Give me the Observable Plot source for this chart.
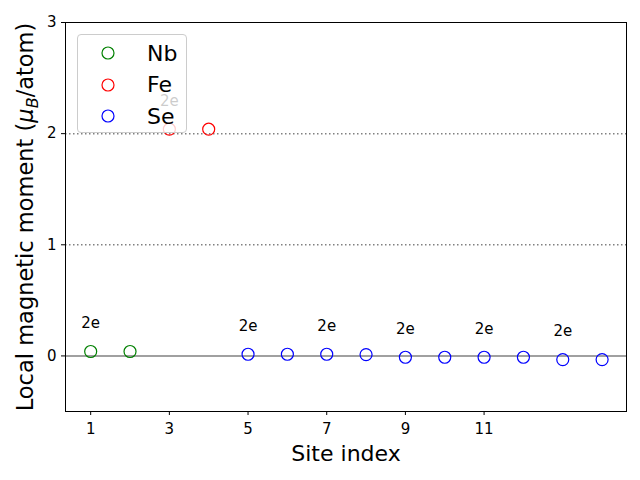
<!DOCTYPE html>
<html>
<head>
<meta charset="utf-8">
<script src="https://cdn.jsdelivr.net/npm/d3@7"></script>
<script src="https://cdn.jsdelivr.net/npm/@observablehq/plot@0.6"></script>
<style>
  html, body { margin: 0; padding: 0; background: #fff; }
  #wrap { position: relative; width: 640px; height: 480px; font-family: "DejaVu Sans", sans-serif; }
  #legend {
    position: absolute; left: 77px; top: 34px; width: 110px; height: 99px;
    background: rgba(255,255,255,0.8); border: 1px solid #cccccc; border-radius: 4px;
    box-sizing: border-box;
  }
  .li { position: absolute; left: 0; height: 30px; display: flex; align-items: center; }
  .li svg { position: absolute; left: 22px; }
  .li span { position: absolute; left: 69px; font-size: 22px; color: #000; white-space: nowrap; }
</style>
</head>
<body>
<div id="wrap"></div>
<script>
// ---- data ----
const nbSites = [1, 2];
const nbValues = [0.04, 0.04];
const feSites = [3, 4];
const feValues = [2.04, 2.04];
const seSites = [5, 6, 7, 8, 9, 10, 11, 12, 13, 14];
const seValues = [0.015, 0.015, 0.015, 0.012, -0.012, -0.012, -0.012, -0.012, -0.033, -0.033];
const labelSites = [1, 3, 5, 7, 9, 11, 13];
const labelText = "2e";
const seriesNames = ["Nb", "Fe", "Se"];
const seriesColors = ["#008000", "#ff0000", "#0000ff"];
const xTicks = [1, 3, 5, 7, 9, 11];
const yTicks = [0, 1, 2, 3];
const dottedLevels = [1, 2];
const xLabel = "Site index";

// ---- table ----
const points = [
  ...nbSites.map((s, i) => ({site: s, value: nbValues[i], el: "Nb"})),
  ...feSites.map((s, i) => ({site: s, value: feValues[i], el: "Fe"})),
  ...seSites.map((s, i) => ({site: s, value: seValues[i], el: "Se"}))
];
const labels = labelSites.map(s => points.find(p => p.site === s));

const font = "DejaVu Sans, sans-serif";
const chart = Plot.plot({
  width: 640,
  height: 480,
  marginLeft: 65,
  marginRight: 14,
  marginTop: 22,
  marginBottom: 69,
  style: {fontFamily: font, background: "white", color: "black"},
  x: {domain: [0.36, 14.62]},
  y: {domain: [-0.5, 3]},
  color: {domain: seriesNames, range: seriesColors},
  marks: [
    Plot.ruleY(dottedLevels, {stroke: "gray", strokeWidth: 1.5, strokeDasharray: "1.5,2.5"}),
    Plot.ruleY([0], {stroke: "gray", strokeWidth: 1.5}),
    Plot.dot(points, {x: "site", y: "value", stroke: d => d.el, r: 6, strokeWidth: 1.2, fill: "none"}),
    Plot.text(labels, {x: "site", y: "value", text: () => labelText, dy: -28, fontSize: 15, fill: "black"}),
    Plot.frame({stroke: "black", strokeWidth: 1}),
    Plot.axisX(xTicks, {tickSize: 4, tickPadding: 8, fontSize: 15, label: null, tickFormat: d3.format("d")}),
    Plot.axisY(yTicks, {tickSize: 4, tickPadding: 5, fontSize: 15, label: null, tickFormat: d3.format("d")}),
    Plot.text([xLabel], {frameAnchor: "bottom", dy: 49, fontSize: 22, fill: "black"}),
    Plot.text(["ylabel"], {frameAnchor: "left", textAnchor: "middle", rotate: -90, dx: -40, fontSize: 22.5, fill: "black"})
  ]
});

const wrap = document.getElementById("wrap");
wrap.appendChild(chart);

// y label with italic mu and subscript B
const yl = d3.select(chart).selectAll("text").filter(function() { return this.textContent === "ylabel"; });
yl.each(function() {
  const t = d3.select(this);
  t.text(null);
  t.append("tspan").text("Local magnetic moment (");
  t.append("tspan").attr("font-style", "italic").text("μ");
  t.append("tspan").attr("font-style", "italic").attr("font-size", "16px").attr("dy", "5").text("B");
  t.append("tspan").attr("dy", "-5").text("/atom)");
});

// legend
const leg = document.createElement("div");
leg.id = "legend";
seriesNames.forEach((n, i) => {
  const item = document.createElement("div");
  item.className = "li";
  item.style.top = (3 + i * 31.5) + "px";
  item.innerHTML = `<svg width="16" height="16"><circle cx="8" cy="8" r="6" fill="none" stroke="${seriesColors[i]}" stroke-width="1.2"/></svg><span>${n}</span>`;
  leg.appendChild(item);
});
wrap.appendChild(leg);
</script>
</body>
</html>
